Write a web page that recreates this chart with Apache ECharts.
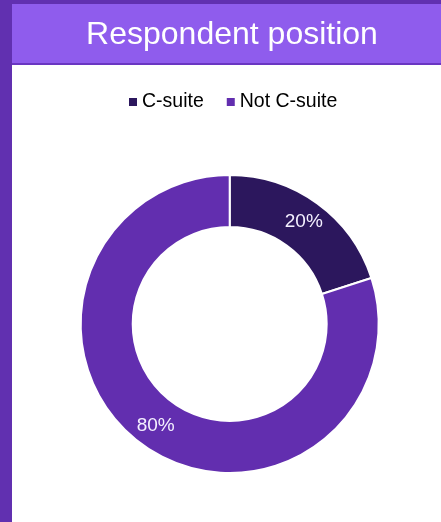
<!DOCTYPE html>
<html>
<head>
<meta charset="utf-8">
<script src="https://cdn.jsdelivr.net/npm/echarts@6/dist/echarts.min.js"></script>
<style>
html,body{margin:0;padding:0;background:#fff;}
#c{width:441px;height:522px;}
</style>
</head>
<body>
<div id="c"></div>
<script>
const titleText = 'Respondent position';
const categories = ['C-suite', 'Not C-suite'];
const values = [20, 80];
const colors = ['#2c175d', '#622eaf'];

const chart = echarts.init(document.getElementById('c'), null, {renderer: 'canvas'});
chart.setOption({
  animation: false,
  backgroundColor: '#ffffff',
  graphic: [
    {type: 'rect', shape: {x: 0, y: 0, width: 441, height: 4}, style: {fill: '#6130b0'}, silent: true},
    {type: 'rect', shape: {x: 0, y: 0, width: 12, height: 522}, style: {fill: '#6130b0'}, silent: true},
    {type: 'rect', shape: {x: 12, y: 4, width: 429, height: 59}, style: {fill: '#8f5ced'}, silent: true},
    {type: 'rect', shape: {x: 12, y: 63, width: 429, height: 2}, style: {fill: '#6a36c2'}, silent: true},
    {type: 'text', x: 232, y: 35, style: {text: titleText, fill: '#ffffff', font: '32px "Liberation Sans", Arial, sans-serif', align: 'center', verticalAlign: 'middle'}, silent: true}
  ],
  legend: {
    data: categories,
    left: 124,
    top: 87,
    icon: 'rect',
    itemWidth: 8,
    itemHeight: 8,
    itemGap: 23,
    itemStyle: {borderWidth: 0},
    textStyle: {fontSize: 19.5, color: '#000', fontFamily: '"Liberation Sans", Arial, sans-serif', padding: [0, 0, 0, 0]},
    selectedMode: false
  },
  series: [{
    type: 'pie',
    center: [229.7, 324],
    radius: [97, 149],
    startAngle: 90,
    clockwise: true,
    silent: true,
    itemStyle: {borderColor: '#ffffff', borderWidth: 2},
    label: {
      show: true,
      position: 'inside',
      formatter: '{c}%',
      color: '#f4f0ff',
      fontSize: 19,
      fontFamily: '"Liberation Sans", Arial, sans-serif'
    },
    labelLine: {show: false},
    data: categories.map((n, i) => ({name: n, value: values[i], itemStyle: {color: colors[i]}}))
  }]
});
</script>
</body>
</html>
